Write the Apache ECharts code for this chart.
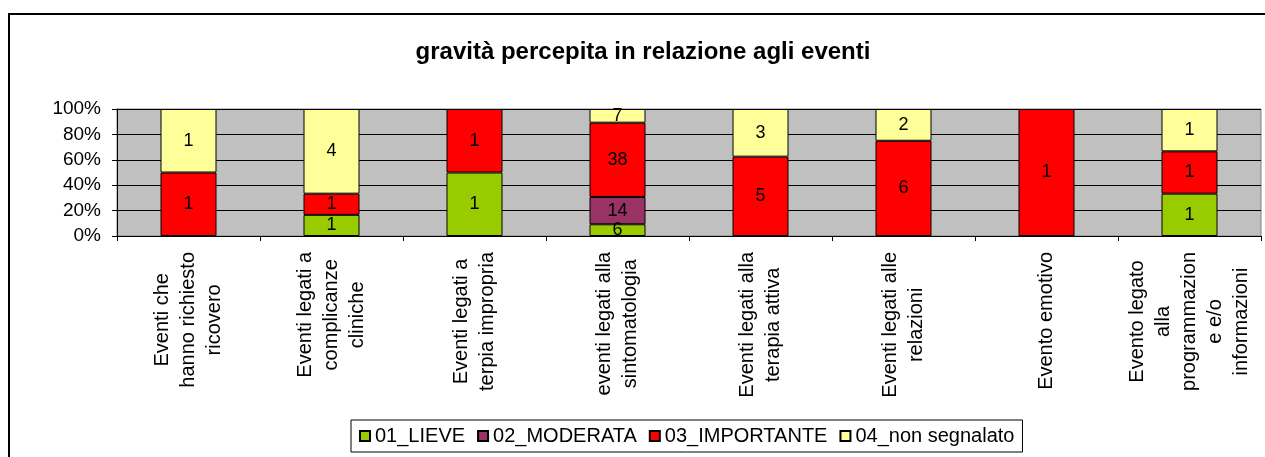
<!DOCTYPE html>
<html lang="it">
<head>
    <meta charset="UTF-8">
    <title>gravità percepita in relazione agli eventi</title>
    <style>
        html, body { margin: 0; padding: 0; background: #fff; }
    </style>
</head>
<body>
<div id="main" style="width: 1265px;height:457px;"></div>
<script src="https://cdn.jsdelivr.net/npm/echarts@6/dist/echarts.min.js"></script>
<script type="text/javascript">
    // categorie (a capo come nell'originale)
    var categorie = [
        'Eventi che\nhanno richiesto\nricovero',
        'Eventi legati a\ncomplicanze\ncliniche',
        'Eventi legati a\nterpia impropria',
        'eventi legati alla\nsintomatologia',
        'Eventi legati alla\nterapia attiva',
        'Eventi legati alle\nrelazioni',
        'Evento emotivo',
        'Evento legato\nalla\nprogrammazion\ne e/o\ninformazioni'
    ];
    // conteggi per gravità
    var lieve      = [null, 1, 1, 6, null, null, null, 1];
    var moderata   = [null, null, null, 14, null, null, null, null];
    var importante = [1, 1, 1, 38, 5, 6, 1, 1];
    var nonSegn    = [1, 4, null, 7, 3, 2, null, 1];
    var tickY = ['0%', '20%', '40%', '60%', '80%', '100%'];

    var nomi = ['01_LIEVE', '02_MODERATA', '03_IMPORTANTE', '04_non segnalato'];
    var colori = ['#99CC00', '#993366', '#FF0000', '#FFFF99'];
    var serie = [lieve, moderata, importante, nonSegn];

    var font = "'Liberation Sans', Arial, sans-serif";

    // totali per categoria -> percentuali
    var totali = categorie.map(function (c, i) {
        var t = 0;
        serie.forEach(function (s) { t += s[i] || 0; });
        return t;
    });

    function percentuali(s) {
        return s.map(function (v, i) {
            return v == null ? null : v / totali[i] * 100;
        });
    }

    var myChart = echarts.init(document.getElementById('main'));

    myChart.setOption({
        animation: false,
        title: {
            text: 'gravità percepita in relazione agli eventi',
            left: 638,
            textAlign: 'center',
            top: 35,
            textStyle: {
                fontFamily: font,
                fontSize: 24,
                fontWeight: 'bold',
                color: '#000'
            }
        },
        graphic: [{
            type: 'rect',
            z: -10,
            shape: {x: 9, y: 14, width: 1400, height: 600},
            style: {fill: 'none', stroke: '#000', lineWidth: 2}
        }],
        legend: {
            data: nomi,
            left: 351,
            top: 420,
            padding: [6, 8],
            itemGap: 12,
            itemWidth: 10,
            itemHeight: 10,
            icon: 'rect',
            borderColor: '#000',
            borderWidth: 1,
            backgroundColor: '#fff',
            textStyle: {
                fontFamily: font,
                fontSize: 20,
                color: '#000'
            }
        },
        grid: {
            left: 117,
            right: 4,
            top: 109,
            bottom: 221,
            show: true,
            backgroundColor: '#C0C0C0',
            borderColor: '#808080',
            borderWidth: 1
        },
        xAxis: {
            type: 'category',
            data: categorie,
            axisLine: {lineStyle: {color: '#000', width: 1}},
            axisTick: {show: true, length: 5, lineStyle: {color: '#000'}},
            axisLabel: {
                rotate: 90,
                margin: 16,
                interval: 0,
                formatter: function (v) {
                    return v.split('\n').map(function (r) {
                        return '{c|' + r + '}';
                    }).join('\n');
                },
                rich: {
                    c: {
                        align: 'center',
                        fontFamily: font,
                        fontSize: 20,
                        lineHeight: 26,
                        color: '#000'
                    }
                }
            }
        },
        yAxis: {
            type: 'value',
            min: 0,
            max: 100,
            interval: 20,
            axisLine: {show: true, lineStyle: {color: '#000', width: 1}},
            axisTick: {show: true, length: 5, lineStyle: {color: '#000'}},
            splitLine: {lineStyle: {color: '#000', width: 1}},
            axisLabel: {
                margin: 16,
                fontFamily: font,
                fontSize: 19,
                color: '#000',
                formatter: function (v) {
                    return tickY[Math.round(v / 20)];
                }
            }
        },
        series: serie.map(function (s, k) {
            return {
                name: nomi[k],
                type: 'bar',
                stack: 'tot',
                barWidth: 56,
                data: percentuali(s),
                itemStyle: {
                    color: colori[k],
                    borderColor: '#000',
                    borderWidth: 1
                },
                label: {
                    show: true,
                    position: 'inside',
                    fontFamily: font,
                    fontSize: 18,
                    color: '#000',
                    formatter: function (p) {
                        return s[p.dataIndex];
                    }
                }
            };
        })
    });
</script>
</body>
</html>
